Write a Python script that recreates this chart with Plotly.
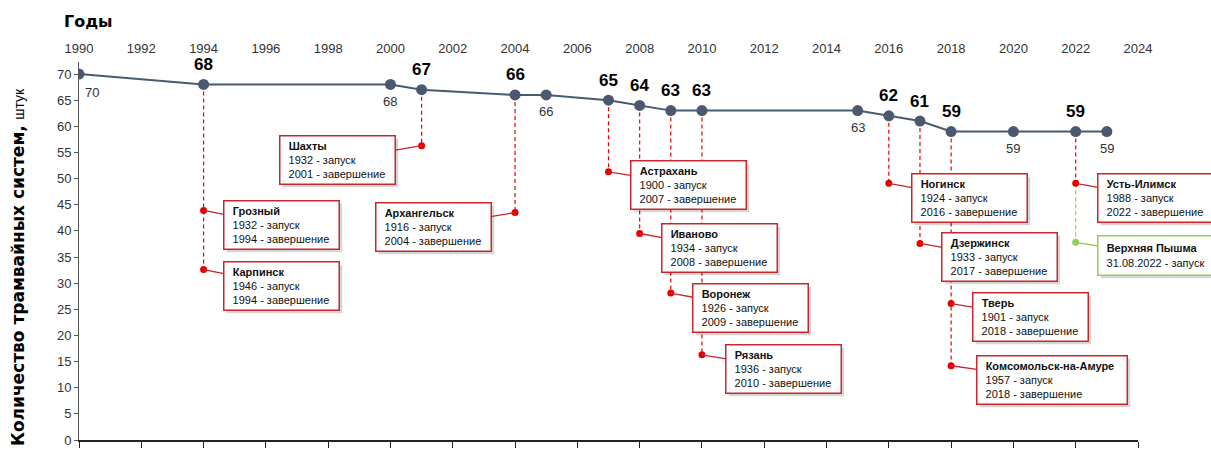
import plotly.graph_objects as go

# ---------------- data ----------------
years = [1990, 1994, 2000, 2001, 2004, 2005, 2007, 2008, 2009, 2010, 2015, 2016, 2017, 2018, 2020, 2022, 2023]
counts = [70, 68, 68, 67, 66, 66, 65, 64, 63, 63, 63, 62, 61, 59, 59, 59, 59]
bold_label_years = [1994, 2001, 2004, 2007, 2008, 2009, 2010, 2016, 2017, 2018, 2022]
plain_label_years = [1990, 2000, 2005, 2015, 2020, 2023]

closed_cities = ["Шахты", "Грозный", "Карпинск", "Архангельск", "Астрахань", "Иваново", "Воронеж",
                 "Рязань", "Ногинск", "Дзержинск", "Тверь", "Комсомольск-на-Амуре", "Усть-Илимск"]
closed_start = [1932, 1932, 1946, 1916, 1900, 1934, 1926, 1936, 1924, 1933, 1901, 1957, 1988]
closed_end = [2001, 1994, 1994, 2004, 2007, 2008, 2009, 2010, 2016, 2017, 2018, 2018, 2022]

opened_cities = ["Верхняя Пышма"]
opened_dates = ["31.08.2022"]
opened_years = [2022]

x_ticks = list(range(1990, 2025, 2))
y_ticks = list(range(0, 75, 5))

# ---------------- layout helpers (positions of callouts) ----------------
closed_dot_y = [56.3, 43.9, 32.6, 43.5, 51.3, 39.5, 28.1, 16.3, 49.1, 37.6, 26.1, 14.2, 49.1]
closed_offsets = [(-84, 14), (78, 15), (78, 16), (-82, 14), (80, 13), (80, 15), (80, 15), (82, 14),
                  (81, 15), (80, 14), (79, 13), (101, 14), (80, 15)]
closed_widths = [110, 110, 110, 110, 110, 110, 110, 110, 110, 110, 110, 145, 110]
opened_dot_y = [37.8]
opened_offsets = [(80, 13)]

RED = "#e60000"
BOX_RED = "#c8262c"
GREEN = "#8fcf5c"
LINE = "#4a5870"
FONT = "Liberation Sans, Arial, sans-serif"
HEAVY = "DejaVu Sans, Liberation Sans, sans-serif"
PAD = "\u00a0\u00a0"

fig = go.Figure()

# dashed drop lines
for yr in sorted(set(closed_end)):
    top = counts[years.index(yr)]
    lows = [closed_dot_y[i] for i, e in enumerate(closed_end) if e == yr]
    fig.add_trace(go.Scatter(x=[yr, yr], y=[top, min(lows)], mode="lines",
                             line=dict(color=RED, width=1.2, dash="4px,3px"),
                             hoverinfo="skip", showlegend=False))
for i, yr in enumerate(opened_years):
    lows = [closed_dot_y[j] for j, e in enumerate(closed_end) if e == yr]
    start = min(lows) if lows else counts[years.index(yr)]
    fig.add_trace(go.Scatter(x=[yr, yr], y=[start, opened_dot_y[i]], mode="lines",
                             line=dict(color=GREEN, width=1.2, dash="4px,3px"),
                             hoverinfo="skip", showlegend=False))

# callout dots
fig.add_trace(go.Scatter(x=closed_end, y=closed_dot_y, mode="markers",
                         marker=dict(color=RED, size=7), hoverinfo="skip", showlegend=False))
fig.add_trace(go.Scatter(x=opened_years, y=opened_dot_y, mode="markers",
                         marker=dict(color=GREEN, size=7), hoverinfo="skip", showlegend=False))

# main line
fig.add_trace(go.Scatter(x=years, y=counts, mode="lines+markers",
                         line=dict(color=LINE, width=2),
                         marker=dict(color=LINE, size=11),
                         hoverinfo="skip", showlegend=False))

# invisible trace for bottom axis
fig.add_trace(go.Scatter(x=[x_ticks[0], x_ticks[-1]], y=[0, 0], xaxis="x2", mode="markers",
                         marker=dict(opacity=0), hoverinfo="skip", showlegend=False))

annotations = []

# value labels
for yr in bold_label_years:
    v = counts[years.index(yr)]
    annotations.append(dict(x=yr, y=v, xref="x", yref="y", text=f"<b>{v}</b>", showarrow=False,
                            yshift=20, font=dict(family=FONT, size=17, color="#000000")))
for yr in plain_label_years:
    v = counts[years.index(yr)]
    first = yr == years[0]
    annotations.append(dict(x=yr, y=v, xref="x", yref="y", text=str(v), showarrow=False,
                            xshift=13 if first else 0, yshift=-18 if first else -17,
                            font=dict(family=FONT, size=13, color="#333333")))


def add_callout(x, y, lines, off, width, border):
    ax, ay = off
    text = "<br>".join(PAD + ln for ln in lines)
    h = 43 if len(lines) == 3 else 34
    # shadow box (no text)
    annotations.append(dict(x=x, y=y, xref="x", yref="y", text="\u00a0", showarrow=False,
                            xshift=ax + 3, yshift=-(ay + 3), width=width, height=h,
                            font=dict(family=FONT, size=11),
                            bgcolor="rgba(0,0,0,0.16)", borderpad=2, borderwidth=1.5,
                            bordercolor="rgba(0,0,0,0)"))
    annotations.append(dict(x=x, y=y, xref="x", yref="y", text=text, showarrow=True,
                            ax=ax, ay=ay, arrowhead=0, arrowwidth=1.3, arrowcolor=border,
                            standoff=0, width=width, height=h, align="left", valign="middle",
                            font=dict(family=FONT, size=11, color="#111111"),
                            bgcolor="white", bordercolor=border, borderwidth=1.5, borderpad=2))


for i, c in enumerate(closed_cities):
    lines = [f"<b>{c}</b>", f"{closed_start[i]} - запуск", f"{closed_end[i]} - завершение"]
    add_callout(closed_end[i], closed_dot_y[i], lines, closed_offsets[i], closed_widths[i], BOX_RED)
for i, c in enumerate(opened_cities):
    lines = [f"<b>{c}</b>", f"{opened_dates[i]} - запуск"]
    add_callout(opened_years[i], opened_dot_y[i], lines, opened_offsets[i], 110, GREEN)

# titles
annotations.append(dict(text="<b>Годы</b>", xref="paper", yref="paper", x=0, y=1,
                        xshift=-17, yshift=41, xanchor="left", yanchor="middle",
                        showarrow=False, font=dict(family=HEAVY, size=16, color="#000")))
annotations.append(dict(text="<b>Количество трамвайных систем,</b> "
                             "<span style='font-family:Liberation Sans;font-size:14px;font-weight:normal'>штук</span>",
                        xref="paper", yref="y", x=0, y=70, xshift=-61, yshift=-12,
                        xanchor="center", yanchor="top", textangle=-90, showarrow=False,
                        font=dict(family=HEAVY, size=17, color="#000")))

fig.update_layout(
    width=1211, height=450,
    margin=dict(l=79, r=73, t=62, b=2),
    paper_bgcolor="white", plot_bgcolor="white",
    font=dict(family=FONT, color="#333333"),
    xaxis=dict(range=[1990, 2024], side="top", tickvals=x_ticks, showgrid=False, zeroline=False,
               showline=False, ticks="outside", ticklen=3, tickcolor="rgba(0,0,0,0)",
               tickfont=dict(size=13, color="#333333")),
    xaxis2=dict(range=[1990, 2024], overlaying="x", side="bottom", anchor="y", tickvals=x_ticks,
                showticklabels=False, showgrid=False, zeroline=False, showline=True,
                linecolor="#222222", linewidth=2, ticks="outside", ticklen=6, tickcolor="#222222"),
    yaxis=dict(range=[0, 72.3], tickvals=y_ticks, showgrid=False, zeroline=False, showline=True,
               linecolor="#555555", linewidth=1, ticks="outside", ticklen=4, tickcolor="#555555",
               tickfont=dict(size=13, color="#333333")),
    annotations=annotations,
)

fig.write_html("out.html")
